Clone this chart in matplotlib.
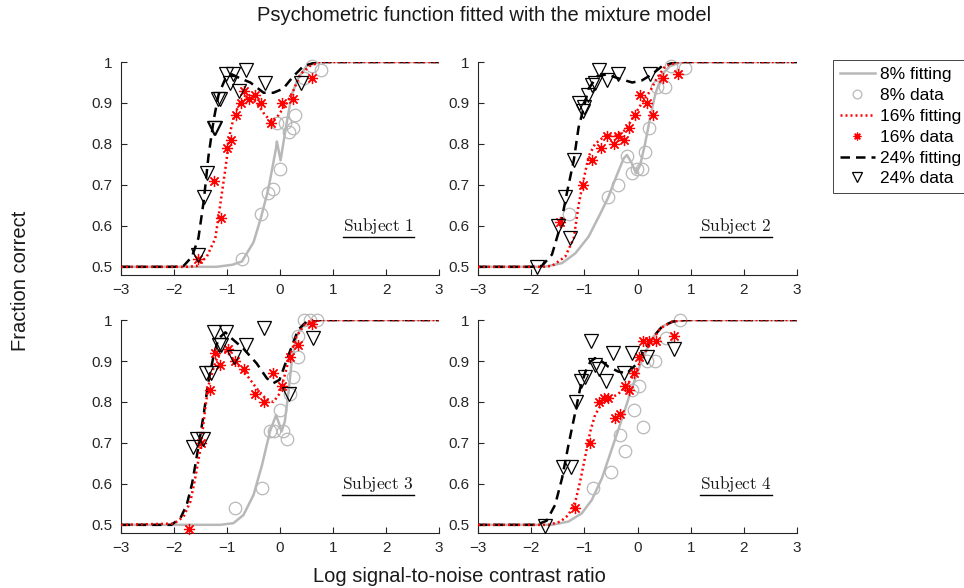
import numpy as np
import matplotlib
matplotlib.use('Agg')
import matplotlib.pyplot as plt

plt.rcParams['font.family'] = ['Liberation Sans', 'DejaVu Sans']
plt.rcParams['mathtext.fontset'] = 'cm'

#* data (x = log SNR contrast ratio, y = fraction correct)
# Subject 1
s1_d8_x = [-0.72, -0.36, -0.22, -0.14, 0.0, -0.05, 0.09, 0.16, 0.24, 0.28, 0.45, 0.6, 0.78]
s1_d8_y = [0.52, 0.63, 0.68, 0.69, 0.74, 0.85, 0.85, 0.83, 0.84, 0.87, 0.96, 0.99, 0.98]
s1_d16_x = [-1.54, -1.12, -1.24, -1.0, -0.92, -0.83, -0.74, -0.68, -0.58, -0.48, -0.36, -0.17, 0.03, 0.24, 0.61]
s1_d16_y = [0.52, 0.62, 0.71, 0.79, 0.81, 0.87, 0.90, 0.93, 0.91, 0.92, 0.90, 0.85, 0.90, 0.91, 0.96]
s1_d24_x = [-1.55, -1.44, -1.37, -1.25, -1.22, -1.17, -1.14, -1.02, -0.95, -0.89, -0.78, -0.64, -0.28, 0.39]
s1_d24_y = [0.53, 0.67, 0.73, 0.84, 0.84, 0.91, 0.91, 0.97, 0.95, 0.97, 0.93, 0.98, 0.95, 0.95]
s1_f8_x = [-3, -1.2, -0.9, -0.72, -0.5, -0.36, -0.22, -0.075, -0.06, 0.01, 0.11, 0.22, 0.34, 0.5, 0.75, 3]
s1_f8_y = [0.5, 0.5, 0.505, 0.513, 0.56, 0.62, 0.69, 0.79, 0.806, 0.76, 0.84, 0.92, 0.96, 0.99, 1.0, 1.0]
s1_f16_x = [-3, -1.75, -1.57, -1.38, -1.22, -1.13, -1.03, -0.94, -0.85, -0.75, -0.6, -0.44, -0.28, -0.16, -0.03, 0.125, 0.25, 0.38, 0.56, 0.75, 3]
s1_f16_y = [0.5, 0.5, 0.502, 0.525, 0.57, 0.65, 0.74, 0.83, 0.875, 0.90, 0.915, 0.90, 0.87, 0.855, 0.87, 0.90, 0.93, 0.97, 0.99, 1.0, 1.0]
s1_f24_x = [-3, -2.0, -1.82, -1.66, -1.54, -1.44, -1.35, -1.25, -1.16, -1.03, -0.91, -0.75, -0.56, -0.31, -0.125, 0.06, 0.25, 0.44, 0.69, 3]
s1_f24_y = [0.5, 0.5, 0.502, 0.525, 0.57, 0.66, 0.77, 0.86, 0.92, 0.96, 0.97, 0.96, 0.95, 0.925, 0.925, 0.935, 0.965, 0.99, 1.0, 1.0]

# Subject 2
s2_d8_x = [-1.29, -0.56, -0.37, -0.2, -0.11, -0.01, 0.09, 0.14, 0.22, 0.36, 0.52, 0.63, 0.9]
s2_d8_y = [0.63, 0.67, 0.70, 0.77, 0.73, 0.74, 0.74, 0.78, 0.84, 0.94, 0.94, 0.99, 0.985]
s2_d16_x = [-1.45, -1.03, -0.85, -0.68, -0.58, -0.45, -0.36, -0.25, -0.16, -0.04, 0.04, 0.18, 0.29, 0.47, 0.76]
s2_d16_y = [0.61, 0.70, 0.76, 0.79, 0.82, 0.80, 0.82, 0.81, 0.84, 0.87, 0.92, 0.90, 0.87, 0.96, 0.97]
s2_d24_x = [-1.89, -1.49, -1.37, -1.27, -1.19, -1.11, -1.03, -1.0, -0.93, -0.85, -0.81, -0.72, -0.58, -0.36, 0.24]
s2_d24_y = [0.50, 0.60, 0.67, 0.57, 0.76, 0.90, 0.88, 0.89, 0.92, 0.945, 0.95, 0.98, 0.955, 0.97, 0.97]
s2_f8_x = [-3, -1.75, -1.42, -1.17, -0.92, -0.7, -0.55, -0.39, -0.26, -0.2, -0.11, -0.03, 0.05, 0.14, 0.24, 0.33, 0.46, 0.61, 0.83, 3]
s2_f8_y = [0.5, 0.5, 0.509, 0.533, 0.574, 0.63, 0.67, 0.724, 0.765, 0.773, 0.753, 0.728, 0.749, 0.80, 0.867, 0.92, 0.97, 0.99, 1.0, 1.0]
s2_f16_x = [-3, -1.8, -1.61, -1.36, -1.2, -1.11, -1.02, -0.92, -0.8, -0.61, -0.42, -0.23, -0.075, 0.08, 0.24, 0.36, 0.52, 0.77, 3]
s2_f16_y = [0.5, 0.5, 0.502, 0.525, 0.57, 0.65, 0.71, 0.77, 0.80, 0.82, 0.82, 0.834, 0.867, 0.90, 0.93, 0.96, 0.99, 1.0, 1.0]
s2_f24_x = [-3, -2.0, -1.8, -1.61, -1.45, -1.33, -1.2, -1.11, -1.05, -0.92, -0.76, -0.58, -0.36, -0.1, 0.08, 0.27, 0.46, 0.71, 3]
s2_f24_y = [0.5, 0.5, 0.502, 0.53, 0.60, 0.68, 0.76, 0.84, 0.87, 0.935, 0.965, 0.97, 0.96, 0.95, 0.955, 0.97, 0.99, 1.0, 1.0]

# Subject 3
s3_d8_x = [-0.85, -0.34, -0.19, -0.11, -0.01, 0.06, 0.125, 0.18, 0.24, 0.33, 0.33, 0.46, 0.56, 0.69]
s3_d8_y = [0.54, 0.59, 0.73, 0.73, 0.78, 0.73, 0.71, 0.82, 0.86, 0.91, 0.96, 1.0, 1.0, 1.0]
s3_d16_x = [-1.72, -1.49, -1.33, -1.22, -1.13, -0.99, -0.85, -0.68, -0.47, -0.3, -0.125, 0.04, 0.18, 0.34, 0.6]
s3_d16_y = [0.49, 0.70, 0.83, 0.92, 0.89, 0.93, 0.90, 0.88, 0.82, 0.80, 0.87, 0.84, 0.91, 0.94, 0.99]
s3_d24_x = [-1.64, -1.57, -1.45, -1.39, -1.3, -1.24, -1.16, -1.11, -1.02, -0.87, -0.64, -0.3, 0.16, 0.63]
s3_d24_y = [0.69, 0.71, 0.71, 0.87, 0.87, 0.97, 0.94, 0.94, 0.97, 0.91, 0.94, 0.98, 0.82, 0.955]
s3_f8_x = [-3, -1.13, -0.88, -0.69, -0.5, -0.34, -0.19, -0.075, -0.01, 0.03, 0.09, 0.16, 0.22, 0.31, 0.44, 0.69, 3]
s3_f8_y = [0.5, 0.5, 0.504, 0.524, 0.573, 0.646, 0.728, 0.768, 0.744, 0.728, 0.752, 0.825, 0.898, 0.96, 0.99, 1.0, 1.0]
s3_f16_x = [-3, -2.0, -1.82, -1.69, -1.6, -1.5, -1.41, -1.35, -1.22, -1.1, -0.97, -0.82, -0.63, -0.44, -0.25, -0.125, -0.01, 0.09, 0.19, 0.31, 0.47, 0.75, 3]
s3_f16_y = [0.5, 0.503, 0.52, 0.557, 0.614, 0.687, 0.785, 0.84, 0.898, 0.927, 0.919, 0.894, 0.866, 0.833, 0.805, 0.80, 0.82, 0.866, 0.915, 0.96, 0.99, 1.0, 1.0]
s3_f24_x = [-3, -2.05, -1.88, -1.76, -1.66, -1.54, -1.44, -1.35, -1.25, -1.16, -1.03, -0.91, -0.69, -0.44, -0.25, -0.125, -0.01, 0.09, 0.22, 0.34, 0.5, 0.75, 3]
s3_f24_y = [0.5, 0.5, 0.516, 0.549, 0.60, 0.69, 0.77, 0.85, 0.915, 0.955, 0.97, 0.955, 0.93, 0.894, 0.858, 0.846, 0.854, 0.89, 0.935, 0.976, 0.996, 1.0, 1.0]

# Subject 4
s4_d8_x = [-0.83, -0.5, -0.34, -0.23, -0.06, 0.02, 0.11, 0.18, 0.32, 0.53, 0.8, -0.1]
s4_d8_y = [0.59, 0.63, 0.72, 0.68, 0.78, 0.84, 0.74, 0.90, 0.90, 0.955, 1.0, 0.83]
s4_d16_x = [-1.17, -0.89, -0.73, -0.63, -0.55, -0.42, -0.34, -0.23, -0.17, -0.075, 0.02, 0.11, 0.21, 0.34, 0.68]
s4_d16_y = [0.54, 0.70, 0.80, 0.81, 0.81, 0.76, 0.77, 0.84, 0.83, 0.87, 0.91, 0.95, 0.95, 0.95, 0.96]
s4_d24_x = [-1.74, -1.41, -1.25, -1.15, -1.06, -0.98, -0.87, -0.81, -0.72, -0.6, -0.47, -0.26, -0.11, 0.18, 0.68]
s4_d24_y = [0.496, 0.64, 0.64, 0.80, 0.85, 0.86, 0.95, 0.89, 0.88, 0.85, 0.92, 0.87, 0.92, 0.91, 0.93]
s4_f8_x = [-3, -1.61, -1.3, -1.05, -0.86, -0.67, -0.48, -0.29, -0.11, 0.08, 0.27, 0.46, 0.71, 0.96, 3]
s4_f8_y = [0.5, 0.5, 0.508, 0.528, 0.561, 0.614, 0.687, 0.76, 0.833, 0.902, 0.955, 0.984, 0.998, 1.0, 1.0]
s4_f16_x = [-3, -1.67, -1.45, -1.3, -1.17, -1.08, -0.98, -0.89, -0.8, -0.67, -0.51, -0.36, -0.2, -0.04, 0.11, 0.27, 0.43, 0.65, 0.9, 3]
s4_f16_y = [0.5, 0.5, 0.508, 0.524, 0.557, 0.606, 0.67, 0.728, 0.768, 0.797, 0.809, 0.82, 0.84, 0.874, 0.915, 0.95, 0.98, 0.996, 1.0, 1.0]
s4_f24_x = [-3, -1.9, -1.71, -1.55, -1.42, -1.3, -1.17, -1.08, -0.98, -0.89, -0.8, -0.7, -0.55, -0.36, -0.2, -0.04, 0.11, 0.27, 0.46, 0.65, 0.9, 3]
s4_f24_y = [0.5, 0.5, 0.51, 0.549, 0.614, 0.695, 0.776, 0.833, 0.874, 0.898, 0.907, 0.902, 0.886, 0.874, 0.87, 0.89, 0.923, 0.955, 0.984, 0.996, 1.0, 1.0]

subjects = ['Subject 1', 'Subject 2', 'Subject 3', 'Subject 4']
labels = ['8% fitting', '8% data', '16% fitting', '16% data', '24% fitting', '24% data']
xticks = [-3, -2, -1, 0, 1, 2, 3]
yticks = [0.5, 0.6, 0.7, 0.8, 0.9, 1.0]
yticklabels = ['0.5', '0.6', '0.7', '0.8', '0.9', '1']

panels = [
    (s1_f8_x, s1_f8_y, s1_d8_x, s1_d8_y, s1_f16_x, s1_f16_y, s1_d16_x, s1_d16_y, s1_f24_x, s1_f24_y, s1_d24_x, s1_d24_y),
    (s2_f8_x, s2_f8_y, s2_d8_x, s2_d8_y, s2_f16_x, s2_f16_y, s2_d16_x, s2_d16_y, s2_f24_x, s2_f24_y, s2_d24_x, s2_d24_y),
    (s3_f8_x, s3_f8_y, s3_d8_x, s3_d8_y, s3_f16_x, s3_f16_y, s3_d16_x, s3_d16_y, s3_f24_x, s3_f24_y, s3_d24_x, s3_d24_y),
    (s4_f8_x, s4_f8_y, s4_d8_x, s4_d8_y, s4_f16_x, s4_f16_y, s4_d16_x, s4_d16_y, s4_f24_x, s4_f24_y, s4_d24_x, s4_d24_y),
]

GRAY = (0.72, 0.72, 0.72)
AXC = (0.15, 0.15, 0.15)
ASTER = (8, 2, 0)   #* asterisk like MATLAB '*'

fig = plt.figure(figsize=(9.64, 5.88), dpi=100)
# axes boxes [left, bottom, width, height]
boxes = [[0.1255, 0.5323, 0.330, 0.3622], [0.4959, 0.5323, 0.331, 0.3622],
         [0.1255, 0.0935, 0.330, 0.3622], [0.4959, 0.0935, 0.331, 0.3622]]

handles = None
for i, (box, p) in enumerate(zip(boxes, panels)):
    ax = fig.add_axes(box)
    f8x, f8y, d8x, d8y, f16x, f16y, d16x, d16y, f24x, f24y, d24x, d24y = p
    h1, = ax.plot(f8x, f8y, '-', color=GRAY, lw=1.8, zorder=2)
    h2, = ax.plot(d8x, d8y, 'o', ls='none', mfc='none', mec=GRAY, ms=9, mew=0.9, zorder=3, clip_on=False)
    h5, = ax.plot(f24x, f24y, color='k', lw=1.8, dashes=(3.8, 2.4), zorder=4)
    h3, = ax.plot(f16x, f16y, color='red', lw=1.8, ls=(0, (0.8, 1.2)), zorder=5)
    h4, = ax.plot(d16x, d16y, ls='none', marker=ASTER, color='red', ms=8, mew=0.9, zorder=6, clip_on=False)
    h6, = ax.plot(d24x, d24y, 'v', ls='none', mfc='none', mec='k', ms=10, mew=0.9, zorder=7, clip_on=False)
    if handles is None:
        handles = [h1, h2, h3, h4, h5, h6]

    ax.set_xlim(-3, 3)
    ax.set_ylim(0.48, 1.0)
    ax.set_xticks(xticks)
    ax.set_yticks(yticks)
    ax.set_yticklabels(yticklabels)
    for s in ['top', 'right']:
        ax.spines[s].set_visible(False)
    for s in ['left', 'bottom']:
        ax.spines[s].set_color(AXC)
        ax.spines[s].set_linewidth(0.8)
    ax.tick_params(direction='in', length=4, width=0.8, colors=AXC, labelsize=11, pad=6)

    t = ax.text(1.85, 0.60, r'$\mathrm{' + subjects[i].replace(' ', r'\ ') + '}$',
                ha='center', va='center', fontsize=12.5, color=(0.1, 0.1, 0.1))
    fig.canvas.draw()
    bb = t.get_window_extent(fig.canvas.get_renderer()).transformed(ax.transAxes.inverted())
    ax.plot([bb.x0, bb.x1], [bb.y0 - 0.006, bb.y0 - 0.006], transform=ax.transAxes,
            color='k', lw=1.0, clip_on=False)

fig.text(0.502, 0.974, 'Psychometric function fitted with the mixture model',
         ha='center', va='center', fontsize=14.5, color=(0.1, 0.1, 0.1))
fig.text(0.477, 0.019, 'Log signal-to-noise contrast ratio',
         ha='center', va='center', fontsize=14.5, color=(0.1, 0.1, 0.1))
fig.text(0.021, 0.522, 'Fraction correct', rotation=90,
         ha='center', va='center', fontsize=14.5, color=(0.1, 0.1, 0.1))

leg = fig.legend(handles, labels, loc='upper left', bbox_to_anchor=(0.864, 0.898),
                 bbox_transform=fig.transFigure, borderaxespad=0, fontsize=12.5,
                 frameon=True, fancybox=False, edgecolor=AXC, framealpha=1,
                 labelspacing=0.33, handlelength=2.0, handletextpad=0.3, borderpad=0.4,
                 markerscale=0.7)
leg.get_frame().set_linewidth(0.6)

fig.savefig('out.png', dpi=100)
